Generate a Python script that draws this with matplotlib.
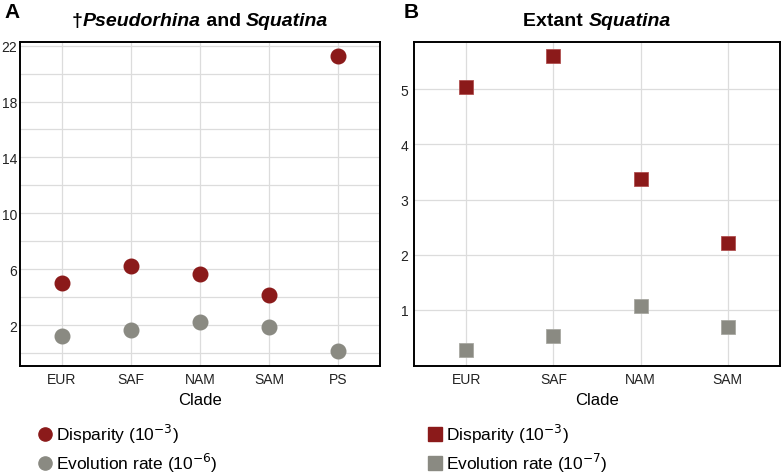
import matplotlib
matplotlib.use("Agg")
import matplotlib.pyplot as plt
from matplotlib.lines import Line2D
from matplotlib.ticker import MultipleLocator

plt.rcParams['font.family'] = ['Liberation Sans Narrow', 'Liberation Sans', 'DejaVu Sans']
plt.rcParams['mathtext.fontset'] = 'custom'
plt.rcParams['mathtext.rm'] = 'Liberation Sans Narrow'

# Panel A data
clades_a = ['EUR', 'SAF', 'NAM', 'SAM', 'PS']
disparity_a = [5.0, 6.22, 5.62, 4.18, 21.24]
rate_a = [1.19, 1.64, 2.22, 1.88, 0.14]

# Panel B data
clades_b = ['EUR', 'SAF', 'NAM', 'SAM']
disparity_b = [5.05, 5.60, 3.38, 2.21]
rate_b = [0.27, 0.52, 1.06, 0.68]

RED = '#8b1a1a'
GRAY = '#8a8a82'

fig = plt.figure(figsize=(7.82, 4.77), dpi=100)
W, H = 782, 477

def px_axes(l, t, r, b):
    return fig.add_axes([l / W, 1 - b / H, (r - l) / W, (b - t) / H])

ax_a = px_axes(20, 43, 380, 367)
ax_b = px_axes(414, 43, 780, 367)

for ax in (ax_a, ax_b):
    ax.grid(True, which='both', color='#dcdcdc', lw=0.9)
    ax.set_axisbelow(True)
    ax.tick_params(axis='both', which='both', length=0, labelsize=10, colors='#222222', pad=4)
    for s in ax.spines.values():
        s.set_linewidth(1.4)
        s.set_color('black')
    ax.set_xlabel('Clade', fontsize=12, labelpad=5)

# panel A
xa = range(len(clades_a))
ax_a.plot(xa, disparity_a, 'o', color=RED, ms=10.5, mec=RED, zorder=3)
ax_a.plot(xa, rate_a, 'o', color=GRAY, ms=10.5, mec=GRAY, zorder=3)
ax_a.set_xticks(list(xa))
ax_a.set_xticklabels(clades_a)
ax_a.set_xlim(-0.6, 4.6)
ax_a.set_ylim(-0.93, 22.26)
ax_a.yaxis.set_minor_locator(MultipleLocator(2))
ax_a.set_yticks([2, 6, 10, 14, 18, 22])
ax_a.tick_params(axis='y', pad=2)

# panel B
xb = range(len(clades_b))
ax_b.plot(xb, disparity_b, 's', color=RED, ms=10, mec='#b05050', mew=0.6, zorder=3)
ax_b.plot(xb, rate_b, 's', color=GRAY, ms=10, mec='#a8a8a2', mew=0.6, zorder=3)
ax_b.set_xticks(list(xb))
ax_b.set_xticklabels(clades_b)
ax_b.set_xlim(-0.6, 3.6)
ax_b.set_ylim(-0.02, 5.86)
ax_b.set_yticks([1, 2, 3, 4, 5])

# panel letters
fig.text(4 / W, 1 - 13 / H, 'A', fontsize=15, fontweight='bold', family='Liberation Sans', va='center')
fig.text(404 / W, 1 - 13 / H, 'B', fontsize=15, fontweight='bold', family='Liberation Sans', va='center')

# titles built from pieces (mixed italic)
def title_pieces(cx, pieces):
    fig.canvas.draw()
    r = fig.canvas.get_renderer()
    texts = []
    for s, style in pieces:
        t = fig.text(0, 1 - 22 / H, s, fontsize=14, fontweight='bold', style=style,
                     family='Liberation Sans', va='center')
        texts.append(t)
    widths = [t.get_window_extent(r).width for t in texts]
    x = cx - sum(widths) / 2
    for t, w in zip(texts, widths):
        t.set_x(x / W)
        x += w

title_pieces(200, [('\u2020', 'normal'), ('Pseudorhina', 'italic'), (' and ', 'normal'), ('Squatina', 'italic')])
title_pieces(597, [('Extant ', 'normal'), ('Squatina', 'italic')])

# legends
def legend(marker, x_px, unit):
    handles = [
        Line2D([], [], ls='none', marker=marker, color=RED, ms=9.5),
        Line2D([], [], ls='none', marker=marker, color=GRAY, ms=9.5),
    ]
    labels = ['Disparity (10$^{-3}$)', 'Evolution rate (10$^{%s}$)' % unit]
    fig.legend(handles, labels, loc='upper left', bbox_to_anchor=(x_px / W, 1 - 416 / H),
               frameon=False, fontsize=12.5, handletextpad=0.15, labelspacing=0.35,
               handlelength=1.0, borderaxespad=0)

legend('o', 29, '-6')
legend('s', 419, '-7')

fig.savefig('out.png', dpi=100)
